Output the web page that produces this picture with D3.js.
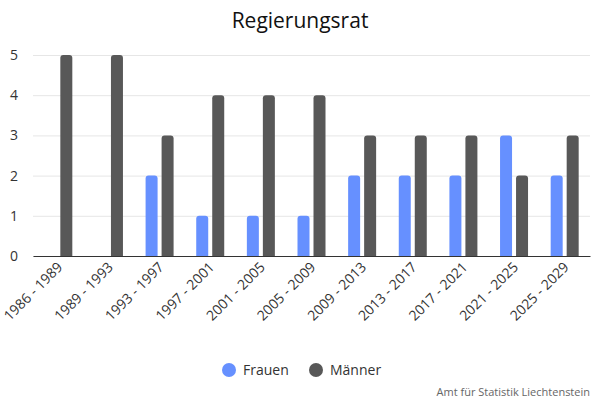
<!DOCTYPE html>
<html><head><meta charset="utf-8">
<script src="https://cdn.jsdelivr.net/npm/d3@7"></script>
<style>body{margin:0;background:#fff}svg{display:block}</style>
</head><body><svg id="c" width="600" height="400"></svg>
<script>
const categories = ["1986 - 1989","1989 - 1993","1993 - 1997","1997 - 2001","2001 - 2005","2005 - 2009","2009 - 2013","2013 - 2017","2017 - 2021","2021 - 2025","2025 - 2029"];
const frauen = [0,0,2,1,1,1,2,2,2,3,2];
const maenner = [5,5,3,4,4,4,3,3,3,2,3];
const seriesNames = ["Frauen","Männer"];
const colors = ["#6690ff","#585858"];
const yTicks = [0,1,2,3,4,5];

const svg = d3.select("#c");
const font = "'Open Sans', Lato, sans-serif";
const m = {l:33, r:10, t:55, b:144};
const W = 600, H = 400;
const x = d3.scaleBand().domain(categories).range([m.l, W-m.r]);
const y = d3.scaleLinear().domain([0,5]).range([H-m.b, m.t]);

svg.append("text").attr("x",300).attr("y",28).attr("text-anchor","middle")
  .attr("font-family",font).attr("font-size",21).attr("font-weight",500).attr("fill","#111").text("Regierungsrat");

const gy = svg.append("g").attr("transform",`translate(${m.l},0)`)
  .call(d3.axisLeft(y).tickValues(yTicks).tickSize(-(W-m.l-m.r)).tickFormat(d3.format("d")));
gy.select(".domain").remove();
gy.selectAll(".tick line").attr("stroke","#e6e6e6");
gy.selectAll(".tick text").attr("x",-19).attr("font-family",font).attr("font-size",14).attr("fill","#333").attr("text-anchor","middle");

const bw = 12, gap = 4;
const data = categories.map((c,i)=>({c, vals:[frauen[i], maenner[i]]}));
const g = svg.append("g");
function barPath(x0, y0, w, h, r){
  if(h<=0) return "";
  r = Math.min(r, h, w/2);
  return `M${x0},${y0+h}V${y0+r}Q${x0},${y0} ${x0+r},${y0}H${x0+w-r}Q${x0+w},${y0} ${x0+w},${y0+r}V${y0+h}Z`;
}
data.forEach(d=>{
  const cx = x(d.c) + x.bandwidth()/2;
  d.vals.forEach((v,j)=>{
    const x0 = j===0 ? cx - gap/2 - bw : cx + gap/2;
    g.append("path").attr("d", barPath(x0, y(v), bw, y(0)-y(v), 3)).attr("fill", colors[j]);
  });
});

const gx = svg.append("g").attr("transform",`translate(0,${y(0)})`)
  .call(d3.axisBottom(x).tickSize(0).tickPadding(0));
gx.select(".domain").attr("stroke","#333").attr("stroke-width",1.2);
gx.selectAll(".tick text").attr("font-family",font).attr("font-size",14).attr("fill","#333")
  .attr("text-anchor","end").attr("dy","0")
  .attr("transform","translate(5,12) rotate(-45)");

const lg = svg.append("g");
const legX = [229, 316];
seriesNames.forEach((s,i)=>{
  lg.append("circle").attr("cx",legX[i]).attr("cy",370).attr("r",7).attr("fill",colors[i]);
  lg.append("text").attr("x",legX[i]+14).attr("y",375).attr("font-family",font).attr("font-size",14).attr("fill","#333").text(s);
});
svg.append("text").attr("x",590).attr("y",396).attr("text-anchor","end").attr("font-family",font).attr("font-size",11).attr("fill","#666").text("Amt für Statistik Liechtenstein");
</script></body></html>
